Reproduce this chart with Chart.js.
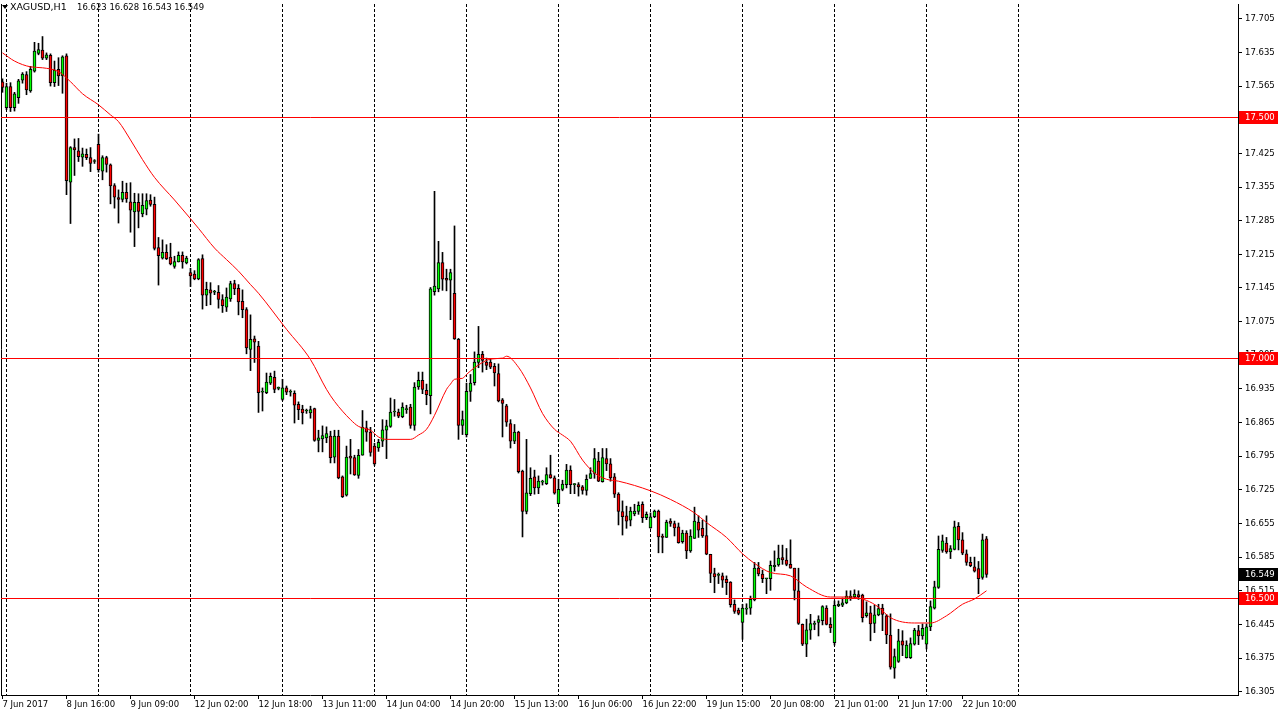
<!DOCTYPE html>
<html>
<head>
<meta charset="utf-8">
<title>XAGUSD,H1</title>
<script src="https://cdn.jsdelivr.net/npm/chart.js@4.4.1/dist/chart.umd.min.js"></script>
<style>
  html, body { margin: 0; padding: 0; background: #fff; }
  #chart { display: block; }
</style>
</head>
<body>
<canvas id="chart" width="1279" height="718"></canvas>
<script>
const SYMBOL = 'XAGUSD,H1';

// hourly candles
const open = [
  17.574,17.520,17.564,17.520,17.541,17.577,17.589,17.555,17.596,17.633,
  17.640,17.623,17.629,17.572,17.600,17.586,17.628,17.365,17.437,17.430,
  17.417,17.423,17.416,17.408,17.444,17.388,17.416,17.401,17.358,17.333,
  17.329,17.344,17.324,17.303,17.323,17.299,17.309,17.328,17.319,17.229,
  17.207,17.219,17.209,17.190,17.199,17.213,17.197,17.177,17.174,17.164,
  17.206,17.130,17.141,17.136,17.136,17.121,17.105,17.122,17.154,17.144,
  17.117,17.100,17.017,17.039,17.024,16.928,16.927,16.947,16.959,16.936,
  16.913,16.937,16.928,16.926,16.903,16.893,16.889,16.885,16.894,16.828,
  16.831,16.833,16.837,16.793,16.837,16.752,16.714,16.795,16.792,16.755,
  16.797,16.854,16.845,16.816,16.812,16.826,16.849,16.857,16.887,16.887,
  16.877,16.892,16.897,16.859,16.939,16.953,16.932,16.921,17.137,17.143,
  17.198,17.165,17.161,17.134,17.038,16.859,16.840,16.930,16.948,16.990,
  17.007,16.991,16.991,16.982,16.967,16.912,16.900,16.863,16.826,16.845,
  16.764,16.680,16.717,16.752,16.729,16.741,16.738,16.757,16.750,16.696,
  16.726,16.736,16.766,16.736,16.736,16.731,16.724,16.749,16.759,16.785,
  16.742,16.790,16.779,16.752,16.716,16.680,16.671,16.662,16.675,16.680,
  16.695,16.667,16.646,16.669,16.681,16.629,16.626,16.660,16.655,16.648,
  16.617,16.635,16.598,16.624,16.658,16.645,16.630,16.591,16.551,16.547,
  16.546,16.539,16.533,16.487,16.475,16.449,16.477,16.479,16.496,16.562,
  16.550,16.540,16.540,16.565,16.569,16.584,16.579,16.570,16.562,16.515,
  16.445,16.404,16.433,16.445,16.449,16.453,16.479,16.445,16.407,16.484,
  16.485,16.490,16.500,16.502,16.507,16.506,16.463,16.469,16.447,16.465,
  16.479,16.463,16.423,16.354,16.368,16.411,16.376,16.376,16.404,16.432,
  16.421,16.404,16.440,16.479,16.522,16.599,16.614,16.596,16.601,16.649,
  16.621,16.592,16.574,16.565,16.561,16.543,16.623
];
const high = [
  17.580,17.571,17.572,17.552,17.579,17.593,17.595,17.606,17.656,17.654,
  17.668,17.634,17.632,17.617,17.624,17.628,17.632,17.439,17.455,17.456,
  17.436,17.434,17.437,17.412,17.465,17.420,17.419,17.403,17.362,17.349,
  17.367,17.363,17.364,17.342,17.341,17.341,17.341,17.339,17.334,17.250,
  17.245,17.235,17.238,17.211,17.220,17.220,17.211,17.186,17.181,17.206,
  17.214,17.157,17.156,17.140,17.150,17.131,17.145,17.159,17.161,17.152,
  17.141,17.104,17.089,17.045,17.034,16.937,16.968,16.968,16.972,16.939,
  16.955,16.941,16.933,16.931,16.908,16.901,16.893,16.899,16.895,16.849,
  16.858,16.856,16.847,16.849,16.849,16.754,16.816,16.830,16.797,16.809,
  16.890,16.868,16.855,16.822,16.830,16.871,16.870,16.916,16.913,16.893,
  16.906,16.901,16.903,16.948,16.970,16.970,16.945,17.146,17.346,17.242,
  17.219,17.184,17.184,17.274,17.040,16.889,16.947,16.965,17.012,17.065,
  17.013,16.999,16.998,16.988,16.987,16.915,16.903,16.871,16.861,16.847,
  16.766,16.830,16.771,16.766,16.754,16.745,16.771,16.797,16.754,16.747,
  16.745,16.778,16.775,16.738,16.740,16.734,16.756,16.771,16.811,16.803,
  16.811,16.811,16.790,16.759,16.719,16.702,16.691,16.689,16.695,16.700,
  16.700,16.679,16.677,16.683,16.683,16.633,16.662,16.665,16.660,16.656,
  16.641,16.640,16.642,16.689,16.671,16.662,16.671,16.591,16.562,16.552,
  16.552,16.546,16.534,16.496,16.479,16.487,16.488,16.504,16.574,16.574,
  16.558,16.541,16.577,16.598,16.610,16.610,16.603,16.621,16.562,16.562,
  16.446,16.456,16.466,16.452,16.463,16.484,16.484,16.459,16.494,16.494,
  16.500,16.515,16.515,16.517,16.515,16.508,16.492,16.483,16.485,16.487,
  16.487,16.466,16.467,16.394,16.435,16.432,16.411,16.417,16.437,16.443,
  16.446,16.446,16.494,16.535,16.629,16.631,16.626,16.609,16.660,16.657,
  16.636,16.600,16.585,16.585,16.576,16.633,16.628
];
const low = [
  17.552,17.516,17.512,17.513,17.529,17.571,17.547,17.552,17.594,17.630,
  17.620,17.620,17.565,17.564,17.566,17.550,17.339,17.279,17.379,17.408,
  17.398,17.412,17.387,17.404,17.386,17.370,17.386,17.320,17.311,17.280,
  17.324,17.323,17.261,17.231,17.270,17.293,17.297,17.315,17.224,17.151,
  17.205,17.204,17.193,17.186,17.199,17.186,17.195,17.148,17.162,17.162,
  17.101,17.108,17.110,17.131,17.103,17.094,17.096,17.117,17.131,17.089,
  17.083,17.008,16.973,16.990,16.886,16.889,16.925,16.944,16.927,16.933,
  16.911,16.923,16.920,16.864,16.871,16.862,16.884,16.874,16.826,16.804,
  16.804,16.823,16.781,16.781,16.748,16.709,16.712,16.758,16.755,16.749,
  16.797,16.826,16.795,16.776,16.805,16.815,16.790,16.855,16.878,16.875,
  16.875,16.884,16.853,16.849,16.934,16.925,16.902,16.883,17.130,17.137,
  17.140,17.139,17.079,17.038,16.830,16.840,16.835,16.909,16.943,16.979,
  16.970,16.975,16.977,16.941,16.908,16.835,16.857,16.812,16.821,16.760,
  16.627,16.675,16.713,16.716,16.717,16.735,16.736,16.749,16.716,16.696,
  16.723,16.729,16.717,16.717,16.712,16.716,16.714,16.749,16.749,16.742,
  16.741,16.765,16.743,16.709,16.652,16.631,16.645,16.650,16.671,16.674,
  16.657,16.663,16.645,16.667,16.594,16.594,16.626,16.649,16.629,16.614,
  16.614,16.582,16.595,16.624,16.626,16.626,16.590,16.532,16.511,16.530,
  16.522,16.507,16.481,16.468,16.465,16.414,16.466,16.466,16.494,16.546,
  16.532,16.509,16.516,16.556,16.566,16.570,16.567,16.562,16.496,16.445,
  16.401,16.378,16.414,16.434,16.421,16.444,16.444,16.428,16.402,16.482,
  16.482,16.488,16.495,16.499,16.497,16.450,16.460,16.411,16.428,16.463,
  16.432,16.405,16.352,16.333,16.366,16.380,16.375,16.374,16.402,16.403,
  16.414,16.394,16.432,16.477,16.520,16.595,16.593,16.582,16.600,16.600,
  16.590,16.568,16.565,16.554,16.509,16.539,16.543
];
const close = [
  17.562,17.564,17.520,17.549,17.576,17.590,17.557,17.600,17.638,17.641,
  17.623,17.630,17.572,17.598,17.586,17.626,17.368,17.437,17.432,17.418,
  17.424,17.416,17.404,17.408,17.391,17.416,17.402,17.357,17.334,17.329,
  17.344,17.330,17.307,17.323,17.304,17.317,17.327,17.319,17.227,17.212,
  17.219,17.206,17.195,17.200,17.213,17.199,17.207,17.170,17.164,17.204,
  17.130,17.142,17.134,17.136,17.121,17.108,17.126,17.154,17.143,17.116,
  17.100,17.020,17.038,17.032,16.927,16.928,16.949,16.961,16.934,16.936,
  16.937,16.928,16.928,16.901,16.892,16.885,16.889,16.892,16.828,16.833,
  16.838,16.842,16.792,16.837,16.750,16.711,16.793,16.791,16.756,16.797,
  16.855,16.845,16.803,16.779,16.824,16.850,16.858,16.887,16.887,16.878,
  16.897,16.892,16.859,16.939,16.953,16.934,16.923,17.143,17.149,17.198,
  17.163,17.161,17.177,17.039,16.859,16.871,16.930,16.947,16.991,17.007,
  16.994,16.984,16.980,16.968,16.910,16.905,16.866,16.826,16.845,16.763,
  16.680,16.719,16.749,16.729,16.743,16.741,16.757,16.750,16.718,16.726,
  16.737,16.766,16.736,16.736,16.731,16.724,16.747,16.759,16.790,16.743,
  16.792,16.779,16.750,16.716,16.680,16.669,16.660,16.681,16.681,16.693,
  16.667,16.674,16.669,16.681,16.627,16.626,16.658,16.655,16.646,16.615,
  16.635,16.598,16.629,16.660,16.641,16.629,16.591,16.551,16.544,16.547,
  16.537,16.532,16.486,16.472,16.468,16.479,16.479,16.497,16.562,16.550,
  16.540,16.540,16.568,16.568,16.583,16.579,16.570,16.562,16.516,16.447,
  16.404,16.434,16.447,16.445,16.455,16.482,16.445,16.438,16.485,16.487,
  16.490,16.504,16.504,16.508,16.502,16.459,16.469,16.446,16.465,16.478,
  16.466,16.423,16.356,16.378,16.411,16.402,16.402,16.405,16.433,16.421,
  16.437,16.440,16.482,16.523,16.601,16.619,16.596,16.603,16.648,16.621,
  16.593,16.574,16.567,16.556,16.540,16.621,16.549
];

// moving average (red line), sampled along the curve: bar index -> value
const maIdx = [0,3,7,10,14,17,20,24,27,29,32,35,38,43,47,49,53,56,59,62,
  64,71,77,81,83,87,89,92,94,96,102,104,106,108,111,112,113,115,116,118,
  122,125,126,129,132,135,138,140,142,145,148,151,154,162,167,173,176,181,185,188,
  192,197,201,207,212,216,219,222,228,232,236,240,243,246];
const maVal = [17.634,17.617,17.605,17.603,17.595,17.574,17.549,17.526,17.505,17.491,
  17.453,17.412,17.375,17.328,17.289,17.269,17.228,17.204,17.180,17.152,
  17.134,17.059,16.996,16.934,16.909,16.871,16.857,16.849,16.835,16.830,
  16.830,16.839,16.851,16.880,16.934,16.945,16.955,16.957,16.965,16.979,
  16.997,16.999,17.003,16.980,16.937,16.884,16.851,16.839,16.826,16.787,
  16.760,16.747,16.743,16.723,16.705,16.677,16.657,16.626,16.592,16.572,
  16.553,16.546,16.523,16.502,16.502,16.495,16.481,16.459,16.448,16.448,
  16.463,16.487,16.498,16.515];

// time labels, one every 16 bars
const timeLabels = ['7 Jun 2017','8 Jun 16:00','9 Jun 09:00','12 Jun 02:00','12 Jun 18:00',
  '13 Jun 11:00','14 Jun 04:00','14 Jun 20:00','15 Jun 13:00','16 Jun 06:00','16 Jun 22:00',
  '19 Jun 15:00','20 Jun 08:00','21 Jun 01:00','21 Jun 17:00','22 Jun 10:00'];
const priceTicks = [16.305,16.375,16.445,16.515,16.585,16.655,16.725,16.795,16.865,16.935,
  17.005,17.075,17.145,17.215,17.285,17.355,17.425,17.495,17.565,17.635,17.705];
const levels = [17.500, 17.000, 16.500];

const LABEL_STEP = 16;
const GRID_STEP = 23;
const FONT = { family: 'DejaVu Sans', size: 8.5 };
const BULL = '#00ff00';
const BEAR = '#ff0000';

const labelAt = new Map(timeLabels.map((t, k) => [k * LABEL_STEP, t]));
const gridSet = new Set();
for (let v = 1; v <= open.length + 10; v += GRID_STEP) gridSet.add(v);
const xTicks = [...new Set([...labelAt.keys(), ...gridSet])].sort((a, b) => a - b);

const bodies = open.map((o, i) => ({ x: i, y: [Math.min(o, close[i]), Math.max(o, close[i])] }));
const wicks = open.map((o, i) => ({ x: i, y: [low[i], high[i]] }));
const maLine = maIdx.map((x, k) => ({ x: x, y: maVal[k] }));

const overlay = {
  id: 'overlay',
  beforeDatasetsDraw(chart) {
    const { ctx, chartArea: a } = chart;
    ctx.save();
    ctx.strokeStyle = '#000';
    ctx.lineWidth = 1;
    ctx.beginPath();
    ctx.moveTo(a.left + 0.5, a.top);
    ctx.lineTo(a.left + 0.5, a.bottom);
    ctx.stroke();
    ctx.restore();
  },
  afterDatasetsDraw(chart) {
    const { ctx, chartArea: a, scales: { y } } = chart;
    ctx.save();
    ctx.strokeStyle = '#ff0000';
    ctx.lineWidth = 1;
    levels.forEach(v => {
      const py = Math.round(y.getPixelForValue(v)) + 0.5;
      ctx.beginPath();
      ctx.moveTo(a.left, py);
      ctx.lineTo(a.right, py);
      ctx.stroke();
    });
    ctx.restore();
  },
  afterDraw(chart) {
    const { ctx, chartArea: a, scales: { y } } = chart;
    const n = open.length;
    ctx.save();
    ctx.font = FONT.size + 'px ' + FONT.family;
    ctx.textBaseline = 'middle';

    const box = (v, bg) => {
      const py = Math.round(y.getPixelForValue(v));
      ctx.fillStyle = bg;
      ctx.fillRect(a.right + 1, py - 6, 39, 13);
      ctx.fillStyle = '#fff';
      ctx.fillText(v.toFixed(3), a.right + 7, py + 0.5);
    };
    levels.forEach(v => box(v, '#ff0000'));
    box(close[n - 1], '#000');

    // title: symbol and OHLC of the last bar
    ctx.fillStyle = '#000';
    ctx.beginPath();
    ctx.moveTo(2, 5);
    ctx.lineTo(8, 5);
    ctx.lineTo(5, 9);
    ctx.closePath();
    ctx.fill();
    ctx.font = '9.5px ' + FONT.family;
    ctx.fillText(SYMBOL, 10, 8);
    ctx.font = FONT.size + 'px ' + FONT.family;
    const ohlc = [open[n - 1], high[n - 1], low[n - 1], close[n - 1]].map(v => v.toFixed(3)).join(' ');
    ctx.fillText(ohlc, 77, 8);
    ctx.restore();
  }
};

new Chart(document.getElementById('chart'), {
  type: 'bar',
  data: {
    datasets: [
      {
        type: 'line',
        data: maLine,
        borderColor: '#ff0000',
        borderWidth: 1,
        pointRadius: 0,
        cubicInterpolationMode: 'monotone',
        order: 1
      },
      {
        data: bodies,
        grouped: false,
        barThickness: 3,
        minBarLength: 1,
        borderWidth: 1,
        borderColor: '#000',
        borderSkipped: false,
        backgroundColor: c => close[c.dataIndex] >= open[c.dataIndex] ? BULL : BEAR,
        order: 2
      },
      {
        data: wicks,
        grouped: false,
        barThickness: 1,
        minBarLength: 1,
        borderWidth: 0,
        backgroundColor: '#000',
        order: 3
      }
    ]
  },
  options: {
    responsive: false,
    animation: false,
    devicePixelRatio: 1,
    events: [],
    layout: { padding: { top: 4, left: 1, right: 0, bottom: 0 } },
    plugins: { legend: { display: false }, tooltip: { enabled: false } },
    scales: {
      x: {
        type: 'linear',
        min: -0.375,
        max: 308.875,
        offset: false,
        afterBuildTicks: s => { s.ticks = xTicks.map(v => ({ value: v })); },
        afterFit: s => { s.height = 23; s.paddingLeft = 0; s.paddingRight = 0; },
        ticks: {
          autoSkip: false,
          maxRotation: 0,
          minRotation: 0,
          align: 'start',
          padding: 1,
          color: '#000',
          font: FONT,
          callback: v => labelAt.has(v) ? labelAt.get(v) : ''
        },
        grid: {
          offset: false,
          drawOnChartArea: true,
          lineWidth: 1,
          tickLength: 4,
          color: c => (c.tick && gridSet.has(c.tick.value)) ? '#000' : 'rgba(0,0,0,0)',
          tickColor: c => (c.tick && labelAt.has(c.tick.value)) ? '#000' : 'rgba(0,0,0,0)'
        },
        border: { display: true, color: '#000', width: 1, dash: [3, 2] }
      },
      y: {
        position: 'right',
        min: 16.2982,
        max: 17.7357,
        afterBuildTicks: s => { s.ticks = priceTicks.map(v => ({ value: v })); },
        afterFit: s => { s.width = 41; s.paddingTop = 0; s.paddingBottom = 0; },
        ticks: {
          padding: 3,
          color: '#000',
          font: FONT,
          callback: v => v.toFixed(3)
        },
        grid: {
          drawOnChartArea: false,
          tickLength: 4,
          color: '#000'
        },
        border: { display: true, color: '#000', width: 1 }
      }
    }
  },
  plugins: [overlay]
});
</script>
</body>
</html>
